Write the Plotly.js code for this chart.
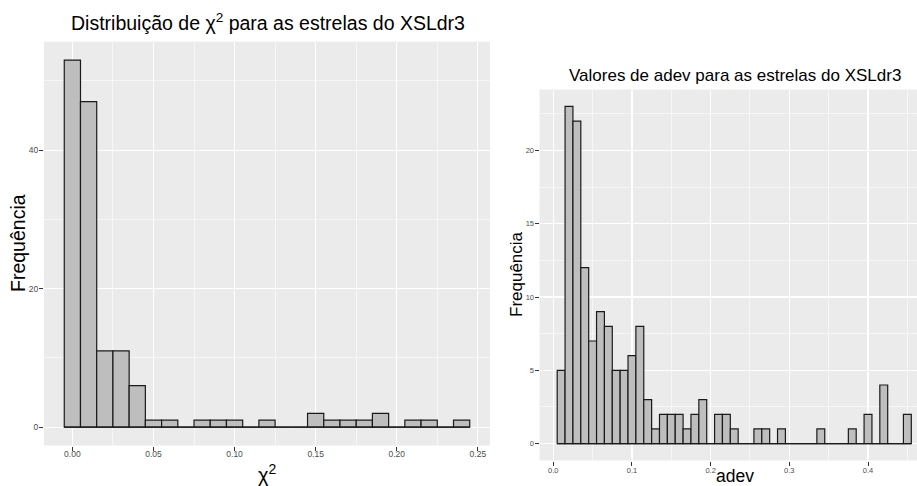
<!DOCTYPE html>
<html>
<head>
<meta charset="utf-8">
<script src="https://cdn.plot.ly/plotly-3.0.1.min.js"></script>
<style>
  html, body { margin: 0; padding: 0; overflow: hidden; background: #ffffff; }
  #chart { width: 935px; height: 486px; }
</style>
</head>
<body>
<div id="chart"></div>
<script>
// Histogram of chi-squared values (bin centres, width 0.01)
const chi2Bins = [0.00, 0.01, 0.02, 0.03, 0.04, 0.05, 0.06, 0.07, 0.08, 0.09,
                  0.10, 0.11, 0.12, 0.13, 0.14, 0.15, 0.16, 0.17, 0.18, 0.19,
                  0.20, 0.21, 0.22, 0.23, 0.24];
const chi2Counts = [53, 47, 11, 11, 6, 1, 1, 0, 1, 1,
                    1, 0, 1, 0, 0, 2, 1, 1, 1, 2,
                    0, 1, 1, 0, 1];

// Histogram of adev values (bin centres, width 0.01)
const adevBins = [0.01, 0.02, 0.03, 0.04, 0.05, 0.06, 0.07, 0.08, 0.09, 0.10,
                  0.11, 0.12, 0.13, 0.14, 0.15, 0.16, 0.17, 0.18, 0.19, 0.20,
                  0.21, 0.22, 0.23, 0.24, 0.25, 0.26, 0.27, 0.28, 0.29, 0.30,
                  0.31, 0.32, 0.33, 0.34, 0.35, 0.36, 0.37, 0.38, 0.39, 0.40,
                  0.41, 0.42, 0.43, 0.44, 0.45];
const adevCounts = [5, 23, 22, 12, 7, 9, 8, 5, 5, 6,
                    8, 3, 1, 2, 2, 2, 1, 2, 3, 0,
                    2, 2, 1, 0, 0, 1, 1, 0, 1, 0,
                    0, 0, 0, 1, 0, 0, 0, 1, 0, 2,
                    0, 4, 0, 0, 2];

const binWidth = 0.01;

const chi2Title = 'Distribuição de χ<sup>2</sup> para as estrelas do XSLdr3';
const adevTitle = 'Valores de adev para as estrelas do XSLdr3';
const chi2XLabel = 'χ<sup>2</sup>';
const adevXLabel = 'adev';
const yLabel = 'Frequência';

const W = 935, H = 486;
const FONT = 'Liberation Sans, Arial, sans-serif';
const fillGrey = '#bebebe';
const outline = '#1a1a1a';

function barTrace(x, y, xa, ya) {
  return {
    type: 'bar', x: x, y: y, width: binWidth,
    xaxis: xa, yaxis: ya,
    marker: { color: fillGrey, line: { color: outline, width: 1.2 } },
    hoverinfo: 'skip', showlegend: false
  };
}

// baseline spanning all bins (empty bins show as a flat outline at zero)
function baseTrace(x, xa, ya) {
  return {
    type: 'scatter', mode: 'lines',
    x: [x[0] - binWidth / 2, x[x.length - 1] + binWidth / 2], y: [0, 0],
    xaxis: xa, yaxis: ya,
    line: { color: outline, width: 1.2 },
    hoverinfo: 'skip', showlegend: false
  };
}

function axisStyle(extra, tickSize) {
  return Object.assign({
    showgrid: true, gridcolor: '#ffffff', gridwidth: 1.1,
    zeroline: false, showline: false,
    ticks: 'outside', ticklen: 4, tickwidth: 1, tickcolor: '#333333',
    tickfont: { family: FONT, size: tickSize, color: '#4d4d4d' },
    fixedrange: true
  }, extra);
}

const px = v => v / W;
const py = v => 1 - v / H;

const data = [
  barTrace(chi2Bins, chi2Counts, 'x', 'y'),
  baseTrace(chi2Bins, 'x', 'y'),
  barTrace(adevBins, adevCounts, 'x2', 'y2'),
  baseTrace(adevBins, 'x2', 'y2')
];

const layout = {
  width: W, height: H,
  margin: { l: 0, r: 0, t: 0, b: 0 },
  paper_bgcolor: '#ffffff',
  plot_bgcolor: '#ebebeb',
  bargap: 0,
  showlegend: false,
  font: { family: FONT },
  xaxis: axisStyle({
    domain: [px(44), px(490)], anchor: 'y',
    range: [-0.0175, 0.2575], tick0: 0, dtick: 0.05, tickformat: '.2f',
    ticklabelstandoff: -4,
    minor: { dtick: 0.025, showgrid: true, gridcolor: '#ffffff', gridwidth: 0.55 }
  }, 8.5),
  yaxis: axisStyle({
    domain: [py(445.5), py(41.7)], anchor: 'x',
    range: [-2.65, 55.65], tick0: 0, dtick: 20,
    ticklabelstandoff: -1,
    minor: { dtick: 10, showgrid: true, gridcolor: '#ffffff', gridwidth: 0.55 }
  }, 8.5),
  xaxis2: axisStyle({
    domain: [px(539.5), px(929)], anchor: 'y2',
    range: [-0.0175, 0.4775], tick0: 0, dtick: 0.1, tickformat: '.1f',
    ticklabelstandoff: -2,
    minor: { dtick: 0.05, showgrid: true, gridcolor: '#ffffff', gridwidth: 0.55 }
  }, 7.5),
  yaxis2: axisStyle({
    domain: [py(460.5), py(89.5)], anchor: 'x2',
    range: [-1.15, 24.15], tick0: 0, dtick: 5,
    ticklabelstandoff: -1,
    minor: { dtick: 2.5, showgrid: true, gridcolor: '#ffffff', gridwidth: 0.55 }
  }, 7.5),
  annotations: [
    { text: chi2Title, xref: 'paper', yref: 'paper', x: px(268), y: py(22),
      xanchor: 'center', yanchor: 'middle', showarrow: false,
      font: { family: FONT, size: 19.5, color: '#000000' } },
    { text: yLabel, xref: 'paper', yref: 'paper', x: px(18.5), y: py(243.5),
      xanchor: 'center', yanchor: 'middle', textangle: -90, showarrow: false,
      font: { family: FONT, size: 19.5, color: '#000000' } },
    { text: chi2XLabel, xref: 'paper', yref: 'paper', x: px(267), y: py(473),
      xanchor: 'center', yanchor: 'middle', showarrow: false,
      font: { family: FONT, size: 20, color: '#000000' } },
    { text: adevTitle, xref: 'paper', yref: 'paper', x: px(734.5), y: py(76),
      xanchor: 'center', yanchor: 'middle', showarrow: false,
      font: { family: FONT, size: 17, color: '#000000' } },
    { text: yLabel, xref: 'paper', yref: 'paper', x: px(516.5), y: py(274.5),
      xanchor: 'center', yanchor: 'middle', textangle: -90, showarrow: false,
      font: { family: FONT, size: 17, color: '#000000' } },
    { text: adevXLabel, xref: 'paper', yref: 'paper', x: px(734.5), y: py(476),
      xanchor: 'center', yanchor: 'middle', showarrow: false,
      font: { family: FONT, size: 17.5, color: '#000000' } }
  ]
};

Plotly.newPlot('chart', data, layout, { displayModeBar: false, staticPlot: true });
</script>
</body>
</html>
